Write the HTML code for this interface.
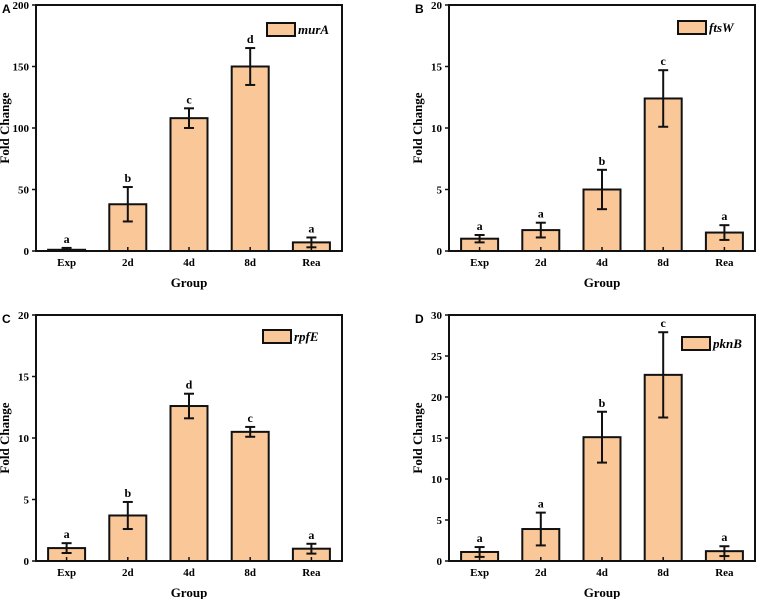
<!DOCTYPE html>
<html><head><meta charset="utf-8"><style>
body{margin:0;background:#fff}
svg{display:block;font-family:"Liberation Serif",serif;font-weight:bold}
</style></head><body>
<svg id="fig" width="758" height="599"></svg>
<script>
const categories=["Exp","2d","4d","8d","Rea"];
const genes=["murA","ftsW","rpfE","pknB"];
const panelLetters=["A","B","C","D"];
const yMaxes=[200,20,20,30];
const yTicksA=[0,50,100,150,200];
const yTicksB=[0,5,10,15,20];
const yTicksC=[0,5,10,15,20];
const yTicksD=[0,5,10,15,20,25,30];
const valuesA=[1,38,108,150,7];
const errorsA=[1.5,14,8,15,4];
const sigA=["a","b","c","d","a"];
const valuesB=[1,1.7,5,12.4,1.5];
const errorsB=[0.3,0.6,1.6,2.3,0.6];
const sigB=["a","a","b","c","a"];
const valuesC=[1.05,3.7,12.6,10.5,1];
const errorsC=[0.4,1.1,1.0,0.4,0.4];
const sigC=["a","b","d","c","a"];
const valuesD=[1.1,3.9,15.1,22.7,1.2];
const errorsD=[0.6,2.0,3.1,5.2,0.6];
const sigD=["a","a","b","c","a"];

const svg=document.getElementById('fig');
const NS="http://www.w3.org/2000/svg";
function mk(tag,attrs,parent){const e=document.createElementNS(NS,tag);for(const k in attrs)e.setAttribute(k,attrs[k]);(parent||svg).appendChild(e);return e;}
const frames=[{x:36,y:5},{x:449,y:5},{x:36,y:315},{x:449,y:315}];
const legends=[{x:267,y:23},{x:678,y:21},{x:263,y:330},{x:682,y:337}];
const allVals=[valuesA,valuesB,valuesC,valuesD];
const allErr=[errorsA,errorsB,errorsC,errorsD];
const allSig=[sigA,sigB,sigC,sigD];
const allTicks=[yTicksA,yTicksB,yTicksC,yTicksD];
const W=306,H=246;
for(let p=0;p<4;p++){
  const f=frames[p];
  const g=mk('g',{});
  
  
  const yS=v=>f.y+H-v/yMaxes[p]*H;
  const slot=W/categories.length;
  const xS=i=>f.x+slot*(i+0.5);
  const bw=37;
  const pl=mk('text',{x:f.x-34,y:f.y+8,'font-family':'Liberation Sans,sans-serif','font-size':'12'},g);
  pl.textContent=panelLetters[p];
  
  
  allVals[p].forEach((v,i)=>{
    const r=mk('rect',{x:xS(i)-bw/2,y:yS(v),width:bw,height:yS(0)-yS(v),fill:'#fac898',stroke:'#111','stroke-width':2},g);
    
    
    const e=allErr[p][i];
    const eg=mk('g',{stroke:'#111','stroke-width':2},g);
    
    
    mk('line',{x1:xS(i),x2:xS(i),y1:yS(v+e),y2:yS(Math.max(0,v-e))},eg);
    mk('line',{x1:xS(i)-5,x2:xS(i)+5,y1:yS(v+e),y2:yS(v+e)},eg);
    mk('line',{x1:xS(i)-5,x2:xS(i)+5,y1:yS(Math.max(0,v-e)),y2:yS(Math.max(0,v-e))},eg);
    const s=mk('text',{x:xS(i),y:yS(v+e)-5,'text-anchor':'middle','font-size':'12'},g);
    s.textContent=allSig[p][i];
    
    
    mk('line',{x1:xS(i),x2:xS(i),y1:f.y+H,y2:f.y+H-4,stroke:'#111','stroke-width':1.5},g);
    const t=mk('text',{x:xS(i),y:f.y+H+15,'text-anchor':'middle','font-size':'11'},g);
    t.textContent=categories[i];
    
    
  });
  allTicks[p].forEach(v=>{
    mk('line',{x1:f.x-4,x2:f.x,y1:yS(v),y2:yS(v),stroke:'#111','stroke-width':1.5},g);
    const t=mk('text',{x:f.x-7,y:yS(v)+4,'text-anchor':'end','font-size':'11'},g);
    t.textContent=v;
    
    
  });
  const fr=mk('rect',{x:f.x,y:f.y,width:W,height:H,fill:'none',stroke:'#111','stroke-width':2},g);
  
  
  const xt=mk('text',{x:f.x+W/2,y:f.y+H+36,'text-anchor':'middle','font-size':'13'},g);
  xt.textContent='Group';
  
  
  const yt=mk('text',{x:0,y:0,'text-anchor':'middle','font-size':'13',transform:`translate(${f.x-27},${f.y+H/2}) rotate(-90)`},g);
  yt.textContent='Fold Change';
  
  
  const L=legends[p];
  const lg=mk('g',{},g);
  
  
  mk('rect',{x:L.x,y:L.y,width:28,height:13,fill:'#fac898',stroke:'#111','stroke-width':2},lg);
  const lt=mk('text',{x:L.x+31,y:L.y+11,'font-size':'13','font-style':'italic'},lg);
  lt.textContent=genes[p];
}
</script>
</body></html>
